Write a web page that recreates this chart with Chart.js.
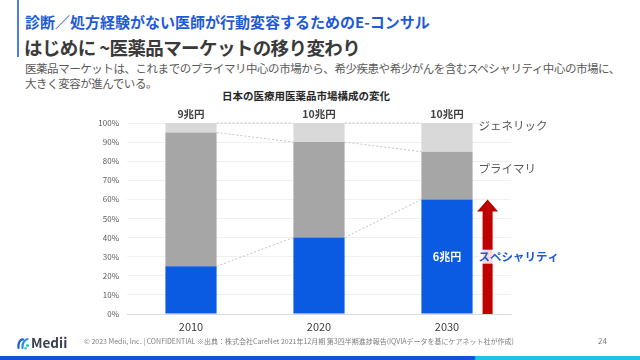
<!DOCTYPE html>
<html>
<head>
<meta charset="utf-8">
<script src="https://cdn.jsdelivr.net/npm/chart.js@4"></script>
<style>
  body { margin: 0; width: 640px; height: 360px; overflow: hidden; background: #fff;
         font-family: "Noto Sans CJK JP", "Noto Sans", sans-serif; position: relative; }
  .bar-left { position: absolute; left: 17px; top: 0; width: 2px; height: 57px; background: #4a7ff0; }
  .kicker { position: absolute; left: 25px; top: 11px; font-size: 15px; font-weight: bold; color: #1f5ad6; white-space: nowrap; letter-spacing: 0; }
  .title { position: absolute; left: 24px; top: 34px; font-size: 18.5px; font-weight: bold; color: #3a3a3a; white-space: nowrap; letter-spacing: -0.6px; }
  .lead { position: absolute; left: 25px; top: 61px; font-size: 11.5px; line-height: 15px; color: #595959; white-space: nowrap; letter-spacing: -0.45px; }
  .ctitle { position: absolute; left: 0; width: 612px; top: 88px; text-align: center; font-size: 10.5px; font-weight: bold; color: #262626; }
  #wrap { position: absolute; left: 60px; top: 100px; width: 520px; height: 240px; }
  .logo { position: absolute; left: 17px; top: 332px; font-size: 13.5px; font-weight: bold; color: #3a4050; white-space: nowrap; }
  .logo svg { vertical-align: -2px; margin-right: 1px; }
  .foot { position: absolute; left: 84px; top: 336px; font-size: 7px; color: #7f7f7f; white-space: nowrap; }
  .page { position: absolute; left: 598px; top: 335px; font-size: 8px; color: #7f7f7f; }
  .stripe { position: absolute; left: 0; top: 356px; width: 640px; height: 4px;
            background: linear-gradient(to right, #1650d8 0, #1650d8 474px, #1ec6e0 476px, #1ec6e0 640px); }
</style>
</head>
<body>
<div class="bar-left"></div>
<div class="kicker">診断／処方経験がない医師が行動変容するためのE-コンサル</div>
<div class="title">はじめに ~医薬品マーケットの移り変わり</div>
<div class="lead">医薬品マーケットは、これまでのプライマリ中心の市場から、希少疾患や希少がんを含むスペシャリティ中心の市場に、<br>大きく変容が進んでいる。</div>
<div class="ctitle">日本の医療用医薬品市場構成の変化</div>
<div id="wrap"><canvas id="marketChart"></canvas></div>
<div class="logo"><svg width="13" height="13" viewBox="0 0 13 13">
  <path d="M1.5 11 C1 6 3 2 6 2.5" stroke="#1f5ad6" stroke-width="2.2" fill="none" stroke-linecap="round"/>
  <path d="M5.5 11 C5 7 7 3 10.5 2" stroke="#2b8ee6" stroke-width="2.2" fill="none" stroke-linecap="round"/>
  <circle cx="10.5" cy="8.5" r="1.6" fill="#1ec6e0"/>
  <circle cx="8.5" cy="11.3" r="1.2" fill="#1ec6e0"/>
</svg>Medii</div>
<div class="foot">© 2023 Medii, Inc. | CONFIDENTIAL ※出典：株式会社CareNet 2021年12月期 第3四半期進捗報告(IQVIAデータを基にケアネット社が作成)</div>
<div class="page">24</div>
<div class="stripe"></div>
<script>
const years = ["2010", "2020", "2030"];
const specialty = [25, 40, 60];
const primary = [70, 50, 25];
const generic = [5, 10, 15];
const totals = ["9兆円", "10兆円", "10兆円"];
const specialty2030 = "6兆円";

Chart.defaults.font.family = '"Noto Sans CJK JP", "Noto Sans", sans-serif';

// dashed connectors, value labels, arrow and side labels
const extras = {
    id: 'extras',
    afterDatasetsDraw(chart) {
        const ctx = chart.ctx;
        const y = chart.scales.y;
        const bars = chart.getDatasetMeta(0).data;
        const levels = years.map((_, i) => [specialty[i], specialty[i] + primary[i], specialty[i] + primary[i] + generic[i]]);

        ctx.save();
        ctx.strokeStyle = '#c4c4c4';
        ctx.lineWidth = 1;
        ctx.setLineDash([2, 2]);
        for (let i = 0; i < bars.length - 1; i++) {
            const a = bars[i], b = bars[i + 1];
            for (let k = 0; k < 3; k++) {
                ctx.beginPath();
                ctx.moveTo(a.x + a.width / 2, y.getPixelForValue(levels[i][k]));
                ctx.lineTo(b.x - b.width / 2, y.getPixelForValue(levels[i + 1][k]));
                ctx.stroke();
            }
        }
        ctx.setLineDash([]);

        // totals above bars
        ctx.fillStyle = '#404040';
        ctx.font = 'bold 10.5px "Noto Sans CJK JP"';
        ctx.textAlign = 'center';
        ctx.textBaseline = 'middle';
        bars.forEach((b, i) => ctx.fillText(totals[i], b.x, y.getPixelForValue(100) - 9));

        // specialty amount inside last bar
        const last = bars[bars.length - 1];
        ctx.fillStyle = '#ffffff';
        ctx.font = 'bold 11px "Noto Sans CJK JP"';
        ctx.fillText(specialty2030, last.x, y.getPixelForValue(30));

        // red arrow
        const ax = last.x + last.width / 2 + 15;
        const top = y.getPixelForValue(specialty[2]);
        const bottom = y.getPixelForValue(0);
        ctx.fillStyle = '#c00000';
        ctx.beginPath();
        ctx.moveTo(ax - 5, bottom);
        ctx.lineTo(ax - 5, top + 12);
        ctx.lineTo(ax - 10.5, top + 12);
        ctx.lineTo(ax, top);
        ctx.lineTo(ax + 10.5, top + 12);
        ctx.lineTo(ax + 5, top + 12);
        ctx.lineTo(ax + 5, bottom);
        ctx.closePath();
        ctx.fill();

        // side labels
        const lx = last.x + last.width / 2 + 6;
        ctx.textAlign = 'left';
        ctx.fillStyle = '#595959';
        ctx.font = '11.5px "Noto Sans CJK JP"';
        ctx.fillText('ジェネリック', lx, y.getPixelForValue(98.5));
        ctx.fillText('プライマリ', lx, y.getPixelForValue(76));

        ctx.font = 'bold 11.5px "Noto Sans CJK JP"';
        const sy = y.getPixelForValue(30);
        ctx.fillStyle = 'rgba(255,255,255,0.85)';
        ctx.fillRect(ax - 6, sy - 7, 12, 14);
        ctx.fillStyle = '#1f5ad6';
        ctx.fillText('スペシャリティ', lx, sy);
        ctx.restore();
    }
};

const ctx1 = document.getElementById("marketChart");

const myBarChart = new Chart(ctx1, {
    type: 'bar',
    data: {
        labels: years,
        datasets: [
            { label: "スペシャリティ", data: specialty, backgroundColor: "#0a5ae2" },
            { label: "プライマリ", data: primary, backgroundColor: "#a6a6a6" },
            { label: "ジェネリック", data: generic, backgroundColor: "#d9d9d9" }
        ]
    },
    options: {
        responsive: true,
        maintainAspectRatio: false,
        animation: false,
        layout: { padding: { top: 23, right: 69, left: 0, bottom: 0 } },
        datasets: { bar: { barPercentage: 0.4, categoryPercentage: 1 } },
        plugins: { legend: { display: false }, tooltip: { enabled: false } },
        scales: {
            x: {
                stacked: true,
                grid: { display: false, drawTicks: false },
                border: { color: '#d9d9d9' },
                ticks: { color: '#404040', font: { size: 11 }, padding: 6 },
                afterFit(scale) { scale.height = 26; }
            },
            y: {
                stacked: true,
                min: 0,
                max: 100,
                grid: { color: '#f0f0f0', drawTicks: false },
                border: { display: false },
                ticks: {
                    stepSize: 10,
                    color: '#595959',
                    font: { size: 8 },
                    padding: 8,
                    callback: v => v + '%'
                },
                afterFit(scale) { scale.height; scale.width = 67; }
            }
        }
    },
    plugins: [extras]
});
</script>
</body>
</html>
